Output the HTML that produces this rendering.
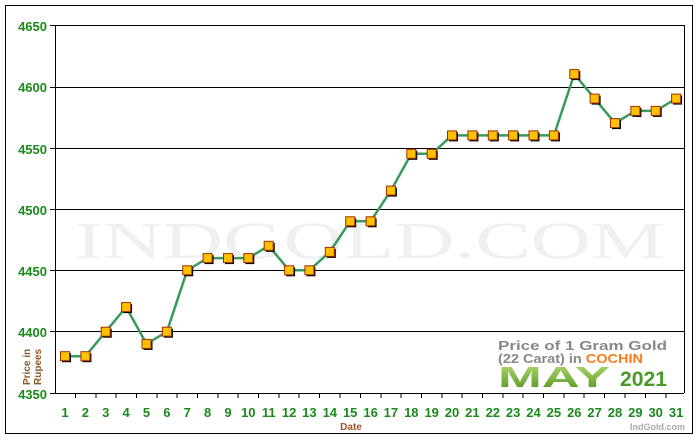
<!DOCTYPE html>
<html><head><meta charset="utf-8"><style>
html,body{margin:0;padding:0;background:#fff;}
svg{display:block;font-family:"Liberation Sans",Arial,sans-serif;}
</style></head><body>
<svg width="700" height="440" viewBox="0 0 700 440" xmlns="http://www.w3.org/2000/svg">
<defs>
<g id="m"><rect x="-3" y="-3" width="9" height="9" fill="#000"/><rect x="-4.5" y="-4.5" width="9" height="9" fill="#ffc000" stroke="#a03000" stroke-width="1"/></g>
<linearGradient id="gm" x1="0" y1="0" x2="0" y2="1"><stop offset="0" stop-color="#b8dc70"/><stop offset="1" stop-color="#4a8f1c"/></linearGradient>
</defs>
<rect x="5.5" y="5.5" width="687" height="428" fill="#fff" stroke="#000" stroke-width="1"/>
<text x="370" y="258" text-anchor="middle" font-family="Liberation Serif,serif" font-size="52" fill="#f0f0f0" textLength="590" lengthAdjust="spacingAndGlyphs">INDGOLD.COM</text>
<g stroke="#000" stroke-width="1">
<line x1="50" y1="25.5" x2="684" y2="25.5"/>
<line x1="50" y1="87.5" x2="684" y2="87.5"/>
<line x1="50" y1="148.5" x2="684" y2="148.5"/>
<line x1="50" y1="209.5" x2="684" y2="209.5"/>
<line x1="50" y1="270.5" x2="684" y2="270.5"/>
<line x1="50" y1="331.5" x2="684" y2="331.5"/>
<line x1="50" y1="393.5" x2="684" y2="393.5"/>
<line x1="55.5" y1="25" x2="55.5" y2="393"/>
<line x1="684.5" y1="25" x2="684.5" y2="393"/>
</g>
<g stroke="#000" stroke-width="1">
<path d="M75.5 393v5M96 393v5M116 393v5M136.5 393v5M157 393v5M177 393v5M197.5 393v5M218 393v5M238 393v5M258.5 393v5M279 393v5M299 393v5M319.5 393v5M340 393v5M360.5 393v5M381 393v5M401 393v5M421.5 393v5M442 393v5M462 393v5M482.5 393v5M503 393v5M523 393v5M543.5 393v5M564 393v5M584 393v5M604.5 393v5M625 393v5M645.5 393v5M666 393v5"/>
</g>
<g font-size="13" fill="#1a8a1a" text-anchor="end" font-weight="bold">
<text x="47" y="31">4650</text><text x="47" y="92">4600</text><text x="47" y="154">4550</text><text x="47" y="215">4500</text><text x="47" y="276">4450</text><text x="47" y="337">4400</text><text x="47" y="399">4350</text>
</g>
<g font-size="13" fill="#1a8a1a" text-anchor="middle" font-weight="bold">
<text x="65" y="417">1</text><text x="85.4" y="417">2</text><text x="105.7" y="417">3</text><text x="126.1" y="417">4</text><text x="146.5" y="417">5</text><text x="166.9" y="417">6</text><text x="187.2" y="417">7</text><text x="207.6" y="417">8</text><text x="228" y="417">9</text><text x="248.3" y="417">10</text><text x="268.7" y="417">11</text><text x="289.1" y="417">12</text><text x="309.4" y="417">13</text><text x="329.8" y="417">14</text><text x="350.2" y="417">15</text><text x="370.6" y="417">16</text><text x="390.9" y="417">17</text><text x="411.3" y="417">18</text><text x="431.7" y="417">19</text><text x="452" y="417">20</text><text x="472.4" y="417">21</text><text x="492.8" y="417">22</text><text x="513.1" y="417">23</text><text x="533.5" y="417">24</text><text x="553.9" y="417">25</text><text x="574.3" y="417">26</text><text x="594.6" y="417">27</text><text x="615" y="417">28</text><text x="635.4" y="417">29</text><text x="655.7" y="417">30</text><text x="676.1" y="417">31</text>
</g>
<text x="351" y="430" font-size="10" font-weight="bold" fill="#a0522d" text-anchor="middle">Date</text>
<text transform="translate(30,385) rotate(-90)" font-size="10" font-weight="bold" fill="#8b5a2b">Price in</text>
<text transform="translate(41,385) rotate(-90)" font-size="10" font-weight="bold" fill="#8b5a2b">Rupees</text>
<text x="685" y="430" font-size="9" font-weight="bold" fill="#aaa" text-anchor="end">IndGold.com</text>
<rect x="480" y="333" width="204" height="60" fill="#fff"/>
<text x="498" y="350" font-size="13" font-weight="bold" fill="#888" textLength="169" lengthAdjust="spacingAndGlyphs">Price of 1 Gram Gold</text>
<text x="498" y="363" font-size="13" font-weight="bold" fill="#888" textLength="145" lengthAdjust="spacingAndGlyphs">(22 Carat) in <tspan fill="#ff7a1a">COCHIN</tspan></text>
<text x="498" y="387" font-size="29" font-weight="bold" fill="url(#gm)" textLength="112" lengthAdjust="spacingAndGlyphs">MAY</text>
<text x="620" y="386" font-size="21" font-weight="bold" fill="#4a9a2a" textLength="47" lengthAdjust="spacingAndGlyphs">2021</text>
<polyline fill="none" stroke="#3a9a5e" stroke-width="2.5" points="65,356.2 85.4,356.2 105.7,331.7 126.1,307.1 146.5,343.9 166.9,331.7 187.2,270.3 207.6,258.1 228,258.1 248.3,258.1 268.7,245.8 289.1,270.3 309.4,270.3 329.8,251.9 350.2,221.3 370.6,221.3 390.9,190.6 411.3,153.8 431.7,153.8 452,135.4 472.4,135.4 492.8,135.4 513.1,135.4 533.5,135.4 553.9,135.4 574.3,74.1 594.6,98.6 615,123.1 635.4,110.9 655.7,110.9 676.1,98.6"/>
<use href="#m" x="65" y="356.2"/><use href="#m" x="85.4" y="356.2"/><use href="#m" x="105.7" y="331.7"/><use href="#m" x="126.1" y="307.1"/><use href="#m" x="146.5" y="343.9"/><use href="#m" x="166.9" y="331.7"/><use href="#m" x="187.2" y="270.3"/><use href="#m" x="207.6" y="258.1"/><use href="#m" x="228" y="258.1"/><use href="#m" x="248.3" y="258.1"/><use href="#m" x="268.7" y="245.8"/><use href="#m" x="289.1" y="270.3"/><use href="#m" x="309.4" y="270.3"/><use href="#m" x="329.8" y="251.9"/><use href="#m" x="350.2" y="221.3"/><use href="#m" x="370.6" y="221.3"/><use href="#m" x="390.9" y="190.6"/><use href="#m" x="411.3" y="153.8"/><use href="#m" x="431.7" y="153.8"/><use href="#m" x="452" y="135.4"/><use href="#m" x="472.4" y="135.4"/><use href="#m" x="492.8" y="135.4"/><use href="#m" x="513.1" y="135.4"/><use href="#m" x="533.5" y="135.4"/><use href="#m" x="553.9" y="135.4"/><use href="#m" x="574.3" y="74.1"/><use href="#m" x="594.6" y="98.6"/><use href="#m" x="615" y="123.1"/><use href="#m" x="635.4" y="110.9"/><use href="#m" x="655.7" y="110.9"/><use href="#m" x="676.1" y="98.6"/>
</svg>
</body></html>
